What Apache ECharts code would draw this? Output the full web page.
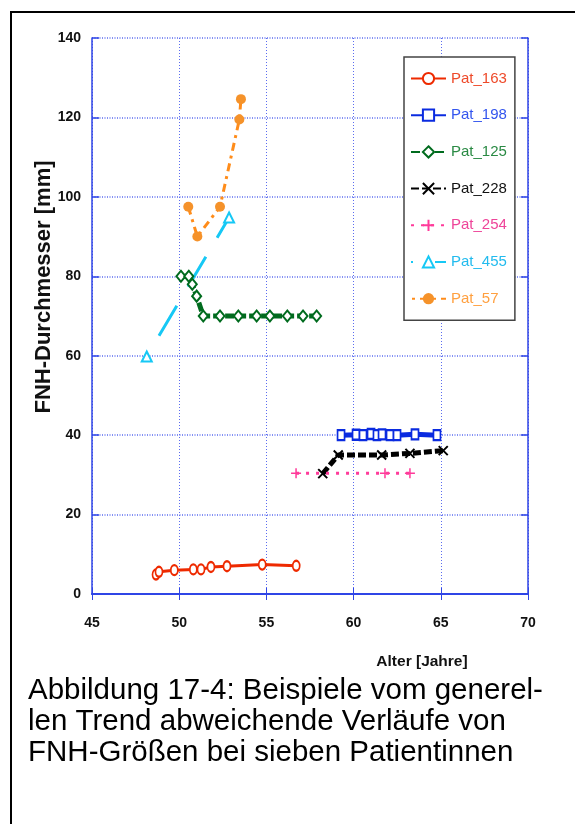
<!DOCTYPE html>
<html>
<head>
<meta charset="utf-8">
<script src="https://cdn.jsdelivr.net/npm/echarts@6/dist/echarts.min.js"></script>
<style>
  html, body { margin: 0; padding: 0; background: #fff; }
  #chart { width: 575px; height: 824px; }
</style>
</head>
<body>
<div id="chart"></div>
<script>
// Werte (Alter in Jahren, FNH-Durchmesser in mm)
const names = ['Pat_163', 'Pat_198', 'Pat_125', 'Pat_228', 'Pat_254', 'Pat_455', 'Pat_57']

const pat163Age = [48.67, 48.84, 49.72, 50.81, 51.25, 51.82, 52.74, 54.76, 56.71]
const pat163Size = [4.9, 5.6, 6.0, 6.2, 6.2, 6.8, 7.0, 7.4, 7.1]

const pat198Age = [59.28, 60.14, 60.54, 61.0, 61.34, 61.63, 62.09, 62.49, 63.52, 64.78]
const pat198Size = [40, 40.1, 40, 40.3, 40, 40.2, 40, 40, 40.2, 40]

const pat125Age = [50.1, 50.55, 50.75, 51.0, 51.38, 52.34, 53.39, 54.44, 55.2, 56.2, 57.1, 57.88]
const pat125Size = [80, 80, 78, 75, 70, 70, 70, 70, 70, 70, 70, 70]

const pat228Age = [58.23, 59.12, 61.61, 63.23, 65.14]
const pat228Size = [30.3, 35, 35, 35.4, 36.1]

const pat254Age = [56.7, 61.8, 63.23]
const pat254Size = [30.4, 30.4, 30.4]

const pat455Age = [48.14, 52.86]
const pat455Size = [59.8, 94.8]

const pat57Age = [50.52, 51.04, 52.34, 53.45, 53.54]
const pat57Size = [97.5, 90, 97.5, 119.5, 124.6]

const xTicks = [45, 70, 5]
const yTicks = [0, 140, 20]

const caption = [
  'Abbildung 17-4: Beispiele vom generel-',
  'len Trend abweichende Verläufe von',
  'FNH-Größen bei sieben Patientinnen'
]

function pairs (xs, ys) {
  return xs.map((x, i) => [x, ys[i]])
}

const narrow = "'Liberation Sans Narrow', 'Arial Narrow', 'Liberation Sans', sans-serif"
const axisBlue = '#2f45e6'
const gridBlue = '#5b6cf0'

const colors = ['#ee2a00', '#0a2be0', '#006b1e', '#000000', '#ff3a9a', '#16c8f5', '#ff8c1a']
const textColors = ['#ee4a2a', '#3355ee', '#2a8a44', '#111111', '#ee4499', '#22bbee', '#ffa040']

let echart = echarts.init(document.getElementById('chart'))

let option = {
  backgroundColor: '#fff',
  animation: false,
  grid: {
    left: 92,
    top: 38,
    right: 47,
    bottom: 230
  },
  legend: {
    orient: 'vertical',
    left: 404,
    top: 57,
    width: 98,
    itemWidth: 35,
    itemHeight: 14,
    itemGap: 21.7,
    padding: [14, 8, 14, 6],
    backgroundColor: '#fff',
    borderColor: '#444',
    borderWidth: 1.5,
    textStyle: {
      fontFamily: narrow,
      fontSize: 15
    },
    data: names.map((n, i) => ({ name: n, textStyle: { color: textColors[i] } }))
  },
  xAxis: [{
    type: 'value',
    min: xTicks[0],
    max: xTicks[1],
    interval: xTicks[2],
    axisLine: { lineStyle: { color: axisBlue, width: 1.5 } },
    axisTick: { inside: true, length: 6, lineStyle: { color: axisBlue } },
    axisLabel: {
      margin: 22,
      color: '#111',
      fontFamily: narrow,
      fontWeight: 'bold',
      fontSize: 14
    },
    splitLine: { show: true, lineStyle: { color: gridBlue, type: [1, 2], width: 1 } }
  }, {
    type: 'value',
    position: 'top',
    min: xTicks[0],
    max: xTicks[1],
    interval: xTicks[2],
    axisLine: { show: true, lineStyle: { color: axisBlue, width: 2 } },
    axisTick: { show: true, inside: true, length: 6, lineStyle: { color: axisBlue } },
    axisLabel: { show: false },
    splitLine: { show: false }
  }],
  yAxis: [{
    type: 'value',
    min: yTicks[0],
    max: yTicks[1],
    interval: yTicks[2],
    axisLine: { show: true, lineStyle: { color: axisBlue, width: 1.5 } },
    axisTick: { show: true, inside: true, length: 7, lineStyle: { color: axisBlue, width: 1.5 } },
    axisLabel: {
      margin: 11,
      color: '#111',
      fontFamily: narrow,
      fontWeight: 'bold',
      fontSize: 14
    },
    splitLine: { show: true, lineStyle: { color: gridBlue, type: [1, 1.5], width: 1.5 } }
  }, {
    type: 'value',
    position: 'right',
    min: yTicks[0],
    max: yTicks[1],
    interval: yTicks[2],
    axisLine: { show: true, lineStyle: { color: axisBlue, width: 1.5 } },
    axisTick: { show: true, inside: true, length: 7, lineStyle: { color: axisBlue, width: 1.5 } },
    axisLabel: { show: false },
    splitLine: { show: false }
  }],
  graphic: [
    {
      type: 'rect',
      shape: { x: 11, y: 12, width: 620, height: 900 },
      style: { fill: 'none', stroke: '#000', lineWidth: 2 },
      silent: true
    },
    {
      type: 'text',
      x: 44,
      y: 287,
      rotation: Math.PI / 2,
      style: {
        text: 'FNH-Durchmesser [mm]',
        font: "bold 22px 'Liberation Sans', Arial, sans-serif",
        fill: '#111',
        textAlign: 'center',
        textVerticalAlign: 'middle'
      }
    },
    {
      type: 'text',
      x: 422,
      y: 662,
      style: {
        text: 'Alter [Jahre]',
        font: 'bold 15.5px ' + narrow,
        fill: '#111',
        textAlign: 'center',
        textVerticalAlign: 'middle'
      }
    },
    {
      type: 'text',
      x: 28,
      y: 675,
      style: {
        text: caption.join('\n'),
        font: "29.5px 'Liberation Sans', Arial, sans-serif",
        lineHeight: 31,
        fill: '#000'
      }
    }
  ],
  series: [
    {
      name: names[0],
      type: 'line',
      data: pairs(pat163Age, pat163Size),
      symbol: 'emptyCircle',
      symbolSize: [7, 10],
      lineStyle: { color: colors[0], width: 3 },
      itemStyle: { color: colors[0], borderWidth: 1.5 }
    },
    {
      name: names[1],
      type: 'line',
      data: pairs(pat198Age, pat198Size),
      symbol: 'emptyRect',
      symbolSize: [7, 10],
      lineStyle: { color: colors[1], width: 5 },
      itemStyle: { color: colors[1], borderWidth: 1.5 }
    },
    {
      name: names[2],
      type: 'line',
      data: pairs(pat125Age, pat125Size),
      symbol: 'emptyDiamond',
      symbolSize: [9, 11],
      lineStyle: { color: colors[2], width: 5, type: [9, 3] },
      itemStyle: { color: colors[2], borderWidth: 1.5 }
    },
    {
      name: names[3],
      type: 'line',
      data: pairs(pat228Age, pat228Size),
      symbol: 'path://M0,0L10,10M10,0L0,10',
      symbolSize: 9,
      lineStyle: { color: colors[3], width: 5, type: [8, 3] },
      itemStyle: { color: colors[3], borderColor: colors[3], borderWidth: 2 }
    },
    {
      name: names[4],
      type: 'line',
      data: pairs(pat254Age, pat254Size),
      symbol: 'path://M5,0L5,10M0,5L10,5',
      symbolSize: 10,
      lineStyle: { color: colors[4], width: 3, type: [3, 7] },
      itemStyle: { color: colors[4], borderColor: colors[4], borderWidth: 1.5 }
    },
    {
      name: names[5],
      type: 'line',
      data: pairs(pat455Age, pat455Size),
      symbol: 'emptyTriangle',
      symbolSize: 10,
      lineStyle: { color: colors[5], width: 3, type: [35, 22], dashOffset: 33 },
      itemStyle: { color: colors[5], borderWidth: 1.5 }
    },
    {
      name: names[6],
      type: 'line',
      data: pairs(pat57Age, pat57Size),
      symbol: 'circle',
      symbolSize: 10,
      lineStyle: { color: colors[6], width: 3, type: [8, 5, 3, 5] },
      itemStyle: { color: '#f5922a' }
    }
  ]
}

echart.setOption(option)
window.addEventListener('resize', function () {
  echart.resize()
})
</script>
</body>
</html>
